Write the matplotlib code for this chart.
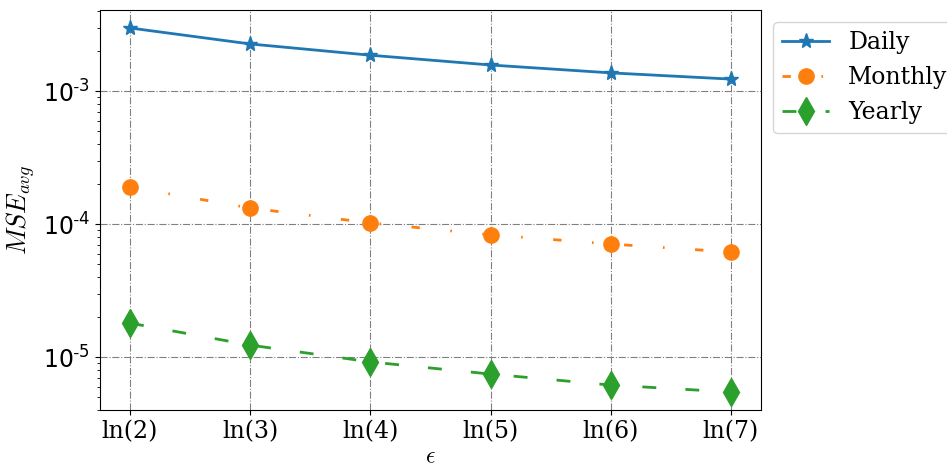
import numpy as np
import matplotlib
matplotlib.use("Agg")
import matplotlib.pyplot as plt

plt.rcParams["font.family"] = "serif"
plt.rcParams["font.serif"] = ["DejaVu Serif"]
plt.rcParams["mathtext.fontset"] = "cm"

eps_labels = ["ln(2)", "ln(3)", "ln(4)", "ln(5)", "ln(6)", "ln(7)"]
mse_daily = [2.98e-3, 2.26e-3, 1.86e-3, 1.57e-3, 1.37e-3, 1.23e-3]
mse_monthly = [1.90e-4, 1.32e-4, 1.02e-4, 8.3e-5, 7.08e-5, 6.16e-5]
mse_yearly = [1.80e-5, 1.23e-5, 9.2e-6, 7.45e-6, 6.16e-6, 5.46e-6]
decades = [1e-5, 1e-4, 1e-3]
decade_labels = [r"$\mathdefault{10^{\text{-}5}}$", r"$\mathdefault{10^{\text{-}4}}$",
                 r"$\mathdefault{10^{\text{-}3}}$"]

x = np.arange(len(eps_labels))

fig = plt.figure(figsize=(9.47, 4.71), dpi=100)
ax = fig.add_axes([0.1056, 0.1295, 0.698, 0.8493])

ax.plot(x, mse_daily, color="#1f77b4", ls="-", lw=2, marker="*", ms=11,
        label="Daily")
ax.plot(x, mse_monthly, color="#ff7f0e", lw=2, ls=(0, (3, 11, 0.6, 11)),
        marker="o", ms=11, label="Monthly")
ax.plot(x, mse_yearly, color="#2ca02c", lw=2, ls=(0, (5, 10.5)),
        marker="d", ms=14, label="Yearly")

ax.set_yscale("log")
ax.set_ylim(4.0e-6, 4.07e-3)
ax.set_yticks(decades, labels=decade_labels, fontfamily="DejaVu Sans")
ax.set_xticks(x)
ax.set_xticklabels(eps_labels)
ax.tick_params(axis="both", which="major", labelsize=17)
ax.grid(True, which="major", ls="-.", color="gray", lw=0.8)

ax.set_xlabel(r"$\epsilon$", fontsize=17, labelpad=2)
ax.set_ylabel(r"$MSE_{avg}$", fontsize=19)

ax.legend(loc="upper left", bbox_to_anchor=(1.0, 1.0), fontsize=17)

fig.savefig("out.png", dpi=100)
